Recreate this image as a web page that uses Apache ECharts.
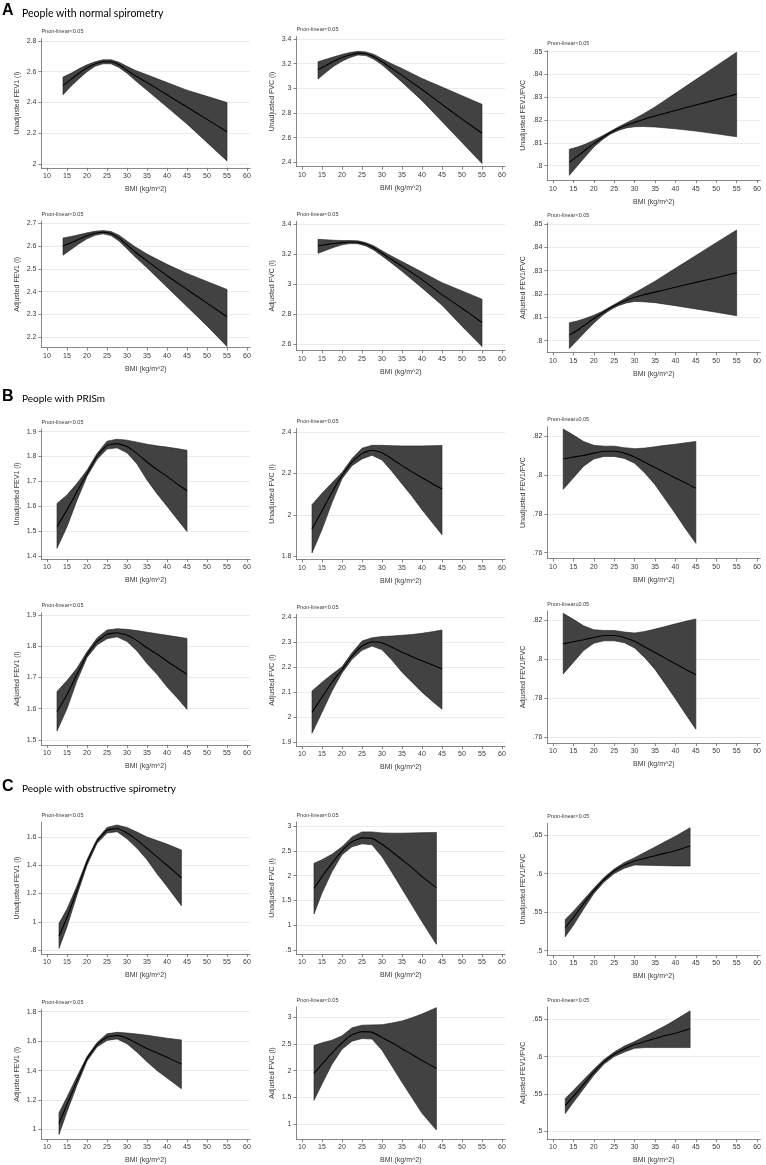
<!DOCTYPE html>
<html>
<head>
<meta charset="utf-8">
<script src="https://cdn.jsdelivr.net/npm/echarts@6/dist/echarts.min.js"></script>
<style>
html, body { margin: 0; padding: 0; background: #fff; }
#chart { width: 766px; height: 1165px; }
</style>
</head>
<body>
<div id="chart"></div>
<script>
var xA = [14, 16, 18, 20, 22, 24, 26, 28, 30, 32, 35, 40, 45, 50, 55]
var xB = [12.5, 15, 17.5, 20, 22.5, 25, 27.5, 30, 32.5, 35, 37.5, 40, 42.5, 45]
var xC = [13, 15, 17.5, 20, 22.5, 25, 27.5, 30, 32.5, 35, 37.5, 40, 43.6]
var bmiTicks = [10, 15, 20, 25, 30, 35, 40, 45, 50, 55, 60]

// A - normal spirometry
var a1Est = [2.51, 2.55, 2.59, 2.625, 2.65, 2.665, 2.665, 2.645, 2.61, 2.575, 2.53, 2.45, 2.37, 2.29, 2.21]
var a1Hi = [2.565, 2.59, 2.62, 2.645, 2.665, 2.678, 2.678, 2.662, 2.635, 2.61, 2.58, 2.53, 2.48, 2.44, 2.40]
var a1Lo = [2.45, 2.505, 2.555, 2.60, 2.635, 2.652, 2.652, 2.628, 2.59, 2.545, 2.48, 2.37, 2.26, 2.14, 2.02]
var a2Est = [3.15, 3.185, 3.22, 3.25, 3.27, 3.285, 3.28, 3.255, 3.215, 3.17, 3.105, 2.99, 2.87, 2.75, 2.635]
var a2Hi = [3.215, 3.235, 3.255, 3.275, 3.29, 3.30, 3.295, 3.275, 3.24, 3.205, 3.16, 3.08, 3.01, 2.94, 2.87]
var a2Lo = [3.075, 3.13, 3.18, 3.22, 3.25, 3.27, 3.265, 3.235, 3.19, 3.135, 3.05, 2.90, 2.73, 2.56, 2.39]
var a3Est = [.8015, .8042, .8070, .8097, .8122, .8145, .8163, .8178, .8190, .8202, .8218, .8242, .8266, .8290, .8314]
var a3Hi = [.8072, .8082, .8095, .8112, .8130, .8150, .8170, .8188, .8206, .8226, .8258, .8318, .8378, .8438, .8498]
var a3Lo = [.7958, .8000, .8042, .8082, .8113, .8138, .8155, .8166, .8171, .8172, .8170, .8162, .8152, .8140, .8127]
var a4Est = [2.60, 2.615, 2.63, 2.645, 2.656, 2.661, 2.655, 2.635, 2.605, 2.575, 2.535, 2.47, 2.41, 2.35, 2.29]
var a4Hi = [2.635, 2.642, 2.65, 2.658, 2.665, 2.668, 2.664, 2.648, 2.622, 2.597, 2.565, 2.52, 2.48, 2.445, 2.41]
var a4Lo = [2.56, 2.585, 2.61, 2.632, 2.647, 2.654, 2.646, 2.622, 2.588, 2.553, 2.505, 2.42, 2.335, 2.25, 2.16]
var a5Est = [3.255, 3.263, 3.27, 3.276, 3.28, 3.278, 3.265, 3.24, 3.205, 3.17, 3.12, 3.03, 2.93, 2.84, 2.745]
var a5Hi = [3.298, 3.295, 3.292, 3.29, 3.29, 3.288, 3.276, 3.254, 3.222, 3.192, 3.15, 3.08, 3.01, 2.955, 2.90]
var a5Lo = [3.205, 3.225, 3.245, 3.262, 3.27, 3.268, 3.254, 3.226, 3.188, 3.148, 3.085, 2.975, 2.86, 2.72, 2.585]
var a6Est = [.8024, .8045, .8070, .8095, .8118, .8140, .8158, .8173, .8186, .8196, .8208, .8229, .8250, .8270, .8291]
var a6Hi = [.8077, .8085, .8096, .8109, .8125, .8145, .8165, .8185, .8205, .8225, .8255, .8310, .8365, .8420, .8474]
var a6Lo = [.7967, .8003, .8040, .8075, .8107, .8132, .8150, .8162, .8168, .8167, .8163, .8150, .8136, .8122, .8107]

// B - PRISm
var b1Est = [1.518, 1.585, 1.658, 1.732, 1.80, 1.845, 1.852, 1.84, 1.812, 1.778, 1.748, 1.72, 1.69, 1.662]
var b1Hi = [1.611, 1.645, 1.692, 1.745, 1.812, 1.862, 1.87, 1.866, 1.858, 1.85, 1.843, 1.838, 1.832, 1.825]
var b1Lo = [1.430, 1.517, 1.624, 1.72, 1.788, 1.830, 1.835, 1.815, 1.77, 1.705, 1.65, 1.60, 1.548, 1.498]
var b2Est = [1.933, 2.02, 2.11, 2.19, 2.255, 2.296, 2.312, 2.30, 2.27, 2.238, 2.208, 2.18, 2.152, 2.125]
var b2Hi = [2.05, 2.105, 2.155, 2.205, 2.272, 2.322, 2.336, 2.336, 2.334, 2.333, 2.333, 2.333, 2.334, 2.335]
var b2Lo = [1.817, 1.93, 2.06, 2.175, 2.238, 2.27, 2.288, 2.265, 2.21, 2.15, 2.09, 2.025, 1.965, 1.905]
var b3Est = [.8082, .8092, .8100, .8112, .8122, .8122, .8112, .8092, .8065, .8038, .8011, .7984, .7958, .7931]
var b3Hi = [.8236, .8205, .8172, .8152, .8148, .8148, .8140, .8135, .8138, .8145, .8152, .8158, .8165, .8172]
var b3Lo = [.7926, .7985, .8045, .8082, .8095, .8095, .8085, .8060, .8010, .7950, .7875, .7800, .7722, .7648]
var b4Est = [1.591, 1.645, 1.71, 1.773, 1.815, 1.838, 1.843, 1.836, 1.818, 1.795, 1.775, 1.752, 1.731, 1.71]
var b4Hi = [1.655, 1.69, 1.73, 1.782, 1.826, 1.852, 1.856, 1.854, 1.85, 1.845, 1.84, 1.835, 1.83, 1.825]
var b4Lo = [1.529, 1.60, 1.69, 1.764, 1.804, 1.824, 1.83, 1.815, 1.785, 1.745, 1.71, 1.67, 1.635, 1.598]
var b5Est = [2.02, 2.08, 2.14, 2.19, 2.245, 2.285, 2.302, 2.298, 2.28, 2.26, 2.243, 2.226, 2.21, 2.193]
var b5Hi = [2.105, 2.14, 2.172, 2.202, 2.258, 2.305, 2.318, 2.323, 2.325, 2.328, 2.331, 2.336, 2.342, 2.349]
var b5Lo = [1.936, 2.02, 2.105, 2.177, 2.232, 2.268, 2.285, 2.27, 2.228, 2.18, 2.14, 2.10, 2.065, 2.032]
var b6Est = [.8079, .8090, .8100, .8112, .8122, .8122, .8112, .8092, .8063, .8035, .8006, .7977, .7948, .7920]
var b6Hi = [.8236, .8205, .8172, .8152, .8148, .8148, .8140, .8135, .8143, .8155, .8168, .8182, .8195, .8207]
var b6Lo = [.7925, .7985, .8045, .8082, .8095, .8095, .8085, .8058, .8008, .7948, .7873, .7797, .7718, .7641]

// C - obstructive spirometry
var c1Est = [.90, 1.03, 1.225, 1.42, 1.57, 1.648, 1.66, 1.628, 1.578, 1.52, 1.46, 1.40, 1.312]
var c1Hi = [.989, 1.09, 1.255, 1.44, 1.585, 1.668, 1.685, 1.668, 1.635, 1.60, 1.575, 1.55, 1.508]
var c1Lo = [.812, .965, 1.19, 1.40, 1.555, 1.628, 1.638, 1.588, 1.52, 1.44, 1.34, 1.25, 1.114]
var c2Est = [1.743, 1.98, 2.25, 2.50, 2.68, 2.76, 2.75, 2.63, 2.48, 2.32, 2.16, 1.98, 1.757]
var c2Hi = [2.247, 2.32, 2.43, 2.58, 2.78, 2.88, 2.88, 2.86, 2.855, 2.855, 2.86, 2.865, 2.87]
var c2Lo = [1.226, 1.65, 2.08, 2.42, 2.58, 2.64, 2.62, 2.38, 2.06, 1.73, 1.40, 1.07, .614]
var c3Est = [.530, .543, .561, .5775, .592, .6033, .611, .6163, .6197, .6232, .6265, .6297, .6357]
var c3Hi = [.5406, .551, .566, .581, .595, .606, .6145, .6206, .6275, .6345, .6415, .6485, .6595]
var c3Lo = [.5181, .533, .554, .574, .589, .600, .607, .6111, .6108, .6105, .6102, .6099, .6098]
var c4Est = [1.04, 1.17, 1.33, 1.48, 1.575, 1.628, 1.638, 1.62, 1.585, 1.55, 1.52, 1.49, 1.444]
var c4Hi = [1.113, 1.22, 1.36, 1.495, 1.59, 1.65, 1.66, 1.655, 1.648, 1.64, 1.63, 1.62, 1.608]
var c4Lo = [.966, 1.12, 1.30, 1.465, 1.56, 1.605, 1.615, 1.582, 1.525, 1.46, 1.40, 1.35, 1.277]
var c5Est = [1.954, 2.12, 2.33, 2.52, 2.67, 2.73, 2.72, 2.62, 2.52, 2.41, 2.30, 2.19, 2.04]
var c5Hi = [2.47, 2.52, 2.57, 2.65, 2.80, 2.85, 2.855, 2.86, 2.89, 2.93, 2.99, 3.06, 3.178]
var c5Lo = [1.443, 1.75, 2.12, 2.40, 2.55, 2.60, 2.59, 2.38, 2.08, 1.78, 1.49, 1.20, .889]
var c6Est = [.535, .547, .563, .579, .593, .603, .610, .616, .620, .624, .628, .631, .637]
var c6Hi = [.544, .555, .569, .583, .596, .606, .614, .620, .627, .634, .641, .649, .661]
var c6Lo = [.524, .539, .557, .575, .590, .600, .606, .611, .612, .612, .612, .612, .612]

// y tick labels
var a1Ticks = [2, 2.2, 2.4, 2.6, 2.8]
var a2Ticks = [2.4, 2.6, 2.8, 3, 3.2, 3.4]
var ratioTicksA = [.8, .81, .82, .83, .84, .85]
var a4Ticks = [2.2, 2.3, 2.4, 2.5, 2.6, 2.7]
var a5Ticks = [2.6, 2.8, 3, 3.2, 3.4]
var b1Ticks = [1.4, 1.5, 1.6, 1.7, 1.8, 1.9]
var b2Ticks = [1.8, 2, 2.2, 2.4]
var ratioTicksB = [.76, .78, .8, .82]
var b4Ticks = [1.5, 1.6, 1.7, 1.8, 1.9]
var b5Ticks = [1.9, 2, 2.1, 2.2, 2.3, 2.4]
var c1Ticks = [.8, 1, 1.2, 1.4, 1.6]
var c2Ticks = [.5, 1, 1.5, 2, 2.5, 3]
var ratioTicksC = [.5, .55, .6, .65]
var c4Ticks = [1, 1.2, 1.4, 1.6, 1.8]
var c5Ticks = [1, 1.5, 2, 2.5, 3]

var panels = [
    { x: xA, est: a1Est, hi: a1Hi, lo: a1Lo, ticks: a1Ticks, name: 'Unadjusted FEV1 (l)', p: '<0.05' },
    { x: xA, est: a2Est, hi: a2Hi, lo: a2Lo, ticks: a2Ticks, name: 'Unadjusted FVC (l)', p: '<0.05' },
    { x: xA, est: a3Est, hi: a3Hi, lo: a3Lo, ticks: ratioTicksA, name: 'Unadjusted FEV1/FVC', p: '<0.05' },
    { x: xA, est: a4Est, hi: a4Hi, lo: a4Lo, ticks: a4Ticks, name: 'Adjusted FEV1 (l)', p: '<0.05' },
    { x: xA, est: a5Est, hi: a5Hi, lo: a5Lo, ticks: a5Ticks, name: 'Adjusted FVC (l)', p: '<0.05' },
    { x: xA, est: a6Est, hi: a6Hi, lo: a6Lo, ticks: ratioTicksA, name: 'Adjusted FEV1/FVC', p: '<0.05' },
    { x: xB, est: b1Est, hi: b1Hi, lo: b1Lo, ticks: b1Ticks, name: 'Unadjusted FEV1 (l)', p: '<0.05' },
    { x: xB, est: b2Est, hi: b2Hi, lo: b2Lo, ticks: b2Ticks, name: 'Unadjusted FVC (l)', p: '<0.05' },
    { x: xB, est: b3Est, hi: b3Hi, lo: b3Lo, ticks: ratioTicksB, name: 'Unadjusted FEV1/FVC', p: '\u22650.05' },
    { x: xB, est: b4Est, hi: b4Hi, lo: b4Lo, ticks: b4Ticks, name: 'Adjusted FEV1 (l)', p: '<0.05' },
    { x: xB, est: b5Est, hi: b5Hi, lo: b5Lo, ticks: b5Ticks, name: 'Adjusted FVC (l)', p: '<0.05' },
    { x: xB, est: b6Est, hi: b6Hi, lo: b6Lo, ticks: ratioTicksB, name: 'Adjusted FEV1/FVC', p: '\u22650.05' },
    { x: xC, est: c1Est, hi: c1Hi, lo: c1Lo, ticks: c1Ticks, name: 'Unadjusted FEV1 (l)', p: '<0.05' },
    { x: xC, est: c2Est, hi: c2Hi, lo: c2Lo, ticks: c2Ticks, name: 'Unadjusted FVC (l)', p: '<0.05' },
    { x: xC, est: c3Est, hi: c3Hi, lo: c3Lo, ticks: ratioTicksC, name: 'Unadjusted FEV1/FVC', p: '<0.05' },
    { x: xC, est: c4Est, hi: c4Hi, lo: c4Lo, ticks: c4Ticks, name: 'Adjusted FEV1 (l)', p: '<0.05' },
    { x: xC, est: c5Est, hi: c5Hi, lo: c5Lo, ticks: c5Ticks, name: 'Adjusted FVC (l)', p: '<0.05' },
    { x: xC, est: c6Est, hi: c6Hi, lo: c6Lo, ticks: ratioTicksC, name: 'Adjusted FEV1/FVC', p: '<0.05' }
]

// layout: column left/width, per panel [top, bottom, yMin, yMax]
var colLeft = [41.4, 296.4, 547.3]
var colWidth = [208.8, 208.8, 213]
var boxes = [
    [38.7, 167.8, 1.975, 2.815], [36.5, 166.6, 2.365, 3.42], [50.6, 180.1, .7937, .8505],
    [221, 347.6, 2.155, 2.71], [221.3, 350.3, 2.56, 3.418], [222.8, 352.4, .795, .8505],
    [429, 559, 1.387, 1.911], [428.5, 559.5, 1.7855, 2.417], [426.7, 558.5, .757, .8248],
    [612.8, 745, 1.484, 1.907], [614.3, 746, 1.885, 2.412], [611, 743, .757, .8248],
    [822.2, 954, .772, 1.705], [822, 954, .419, 3.08], [823.3, 955, .4944, .6652],
    [1009.5, 1139.6, .935, 1.815], [1007, 1140.9, .72, 3.19], [1007.1, 1141.6, .49, .666]
]

var sections = [
    { letter: 'A', text: 'People with normal spirometry', top: 3, size: 10.5 },
    { letter: 'B', text: 'People with PRISm', top: 389, size: 10 },
    { letter: 'C', text: 'People with obstructive spirometry', top: 779, size: 10 }
]

var FONT = 'Liberation Sans, Arial, sans-serif'
var axisGray = '#6a6a6a'
var textGray = '#3a3a3a'

function stataNum(v) {
    return String(+v.toFixed(3)).replace(/^0\./, '.')
}

// confidence band as one polygon: upper bound left to right, lower bound back
function bandRenderer(p) {
    return function(params, api) {
        if (params.dataIndex !== 0) return
        var pts = []
        for (var k = 0; k < p.x.length; k++) pts.push(api.coord([p.x[k], p.hi[k]]))
        for (var j = p.x.length - 1; j >= 0; j--) pts.push(api.coord([p.x[j], p.lo[j]]))
        return {
            type: 'polygon',
            shape: { points: pts },
            style: { fill: '#424242', stroke: '#1e1e1e', lineWidth: 0.6 }
        }
    }
}

var grids = []
var xAxes = []
var yAxes = []
var series = []
var graphics = []

panels.forEach(function(p, i) {
    var col = i % 3
    var b = boxes[i]
    grids.push({ left: colLeft[col], top: b[0], width: colWidth[col], height: b[1] - b[0] })
    xAxes.push({
        type: 'value',
        gridIndex: i,
        min: 8.6,
        max: 60.8,
        name: 'BMI (kg/m^2)',
        nameLocation: 'middle',
        nameGap: 18,
        nameTextStyle: { fontSize: 7, color: textGray, fontFamily: FONT },
        axisLine: { onZero: false, lineStyle: { color: axisGray, width: 0.8 } },
        axisTick: { customValues: bmiTicks, length: 3, lineStyle: { color: axisGray, width: 0.8 } },
        axisLabel: { customValues: bmiTicks, fontSize: 7, color: textGray, margin: 5, fontFamily: FONT },
        splitLine: { show: false }
    })
    yAxes.push({
        type: 'value',
        gridIndex: i,
        min: b[2],
        max: b[3],
        name: p.name,
        nameLocation: 'middle',
        nameRotate: 90,
        nameGap: 21,
        nameTextStyle: { fontSize: 7, color: textGray, fontFamily: FONT },
        axisLine: { show: true, onZero: false, lineStyle: { color: axisGray, width: 0.8 } },
        axisTick: { show: true, customValues: p.ticks, length: 3, lineStyle: { color: axisGray, width: 0.8 } },
        axisLabel: { customValues: p.ticks, fontSize: 7, color: textGray, margin: 5, fontFamily: FONT, formatter: stataNum },
        splitLine: { show: true, lineStyle: { color: '#e6e6e6', width: 0.8 } }
    })
    series.push({
        type: 'custom', xAxisIndex: i, yAxisIndex: i, silent: true,
        data: p.x.map(function(v, k) { return [v, p.lo[k], p.hi[k]] }),
        encode: { x: 0, y: [1, 2] },
        renderItem: bandRenderer(p)
    })
    series.push({
        type: 'line', xAxisIndex: i, yAxisIndex: i, z: 5,
        data: p.x.map(function(v, k) { return [v, p.est[k]] }),
        symbol: 'none', smooth: 0.15, silent: true,
        lineStyle: { color: '#000', width: 1.1 }
    })
    graphics.push({
        type: 'text', left: colLeft[col], top: b[0] - 10,
        style: { text: 'Pnon-linear' + p.p, fontSize: 5.5, fill: textGray, fontFamily: FONT }
    })
})

sections.forEach(function(s) {
    graphics.push({
        type: 'text', left: 2, top: s.top,
        style: { text: s.letter, fontSize: 16, fontWeight: 'bold', fill: '#000', fontFamily: FONT }
    })
    graphics.push({
        type: 'text', left: 22, top: s.top + 5,
        style: { text: s.text, fontSize: s.size, fill: '#000', fontFamily: 'Lato, Open Sans, sans-serif' }
    })
})

var myChart = echarts.init(document.getElementById('chart'))
myChart.setOption({
    animation: false,
    backgroundColor: '#fff',
    grid: grids,
    xAxis: xAxes,
    yAxis: yAxes,
    series: series,
    graphic: graphics
})
</script>
</body>
</html>
